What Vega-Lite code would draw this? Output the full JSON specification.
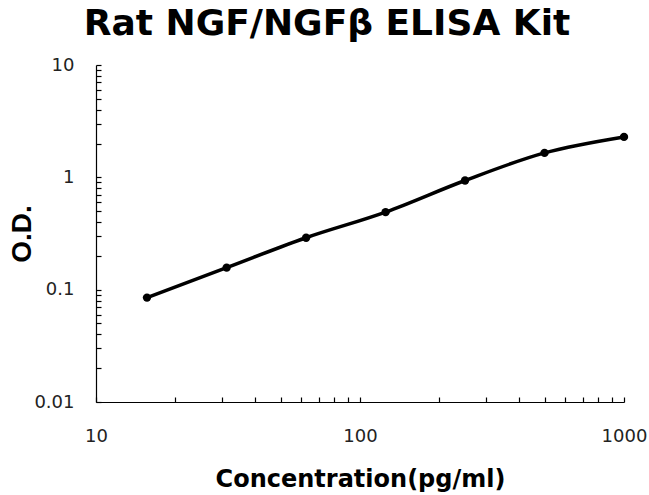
{
  "$schema": "https://vega.github.io/schema/vega-lite/v6.json",
  "width": 528,
  "height": 337,
  "autosize": {"type": "none"},
  "padding": {"left": 96, "top": 65, "right": 25, "bottom": 93},
  "background": "white",
  "config": {
    "view": {"stroke": null},
    "axis": {"grid": false, "domainColor": "black", "tickColor": "black", "domainWidth": 1.2, "tickWidth": 1.2}
  },
  "title": {
    "text": "Rat NGF/NGFβ ELISA Kit",
    "font": "DejaVu Sans",
    "fontWeight": "bold",
    "fontSize": 36,
    "color": "black",
    "anchor": "middle",
    "frame": "group",
    "baseline": "bottom",
    "offset": -23,
    "dx": -33
  },
  "data": {
    "values": [
      {"conc": 15.6, "od": 0.085},
      {"conc": 31.25, "od": 0.157},
      {"conc": 62.5, "od": 0.29},
      {"conc": 125, "od": 0.49},
      {"conc": 250, "od": 0.937},
      {"conc": 500, "od": 1.65},
      {"conc": 1000, "od": 2.29}
    ]
  },
  "encoding": {
    "x": {
      "field": "conc",
      "type": "quantitative",
      "scale": {"type": "log", "domain": [10, 1000], "nice": false},
      "axis": {
        "title": "Concentration(pg/ml)",
        "titleFont": "DejaVu Sans",
        "titleFontWeight": "bold",
        "titleFontSize": 24,
        "titleColor": "black",
        "titlePadding": 22,
        "values": [10, 20, 30, 40, 50, 60, 70, 80, 90, 100, 200, 300, 400, 500, 600, 700, 800, 900, 1000],
        "labelExpr": "datum.value == 10 ? '10' : datum.value == 100 ? '100' : datum.value == 1000 ? '1000' : ''",
        "labelFont": "DejaVu Sans",
        "labelFontSize": 18,
        "labelColor": "#222",
        "labelPadding": 30,
        "labelFlush": false,
        "labelOverlap": false,
        "tickSize": -5
      }
    },
    "y": {
      "field": "od",
      "type": "quantitative",
      "scale": {"type": "log", "domain": [0.01, 10], "nice": false},
      "axis": {
        "title": "O.D.",
        "titleFont": "Liberation Sans",
        "titleFontWeight": "bold",
        "titleFontSize": 28,
        "titleColor": "black",
        "titlePadding": -3,
        "values": [0.01, 0.02, 0.03, 0.04, 0.05, 0.06, 0.07, 0.08, 0.09, 0.1, 0.2, 0.3, 0.4, 0.5, 0.6, 0.7, 0.8, 0.9, 1, 2, 3, 4, 5, 6, 7, 8, 9, 10],
        "labelExpr": "datum.value == 0.01 ? '0.01' : datum.value == 0.1 ? '0.1' : datum.value == 1 ? '1' : datum.value == 10 ? '10' : ''",
        "labelFont": "DejaVu Sans",
        "labelFontSize": 18,
        "labelColor": "#222",
        "labelPadding": 27,
        "labelFlush": false,
        "labelOverlap": false,
        "tickSize": -5
      }
    }
  },
  "layer": [
    {"mark": {"type": "line", "interpolate": "monotone", "color": "black", "strokeWidth": 3.5}},
    {"mark": {"type": "point", "filled": true, "color": "black", "opacity": 1, "size": 70}}
  ]
}
